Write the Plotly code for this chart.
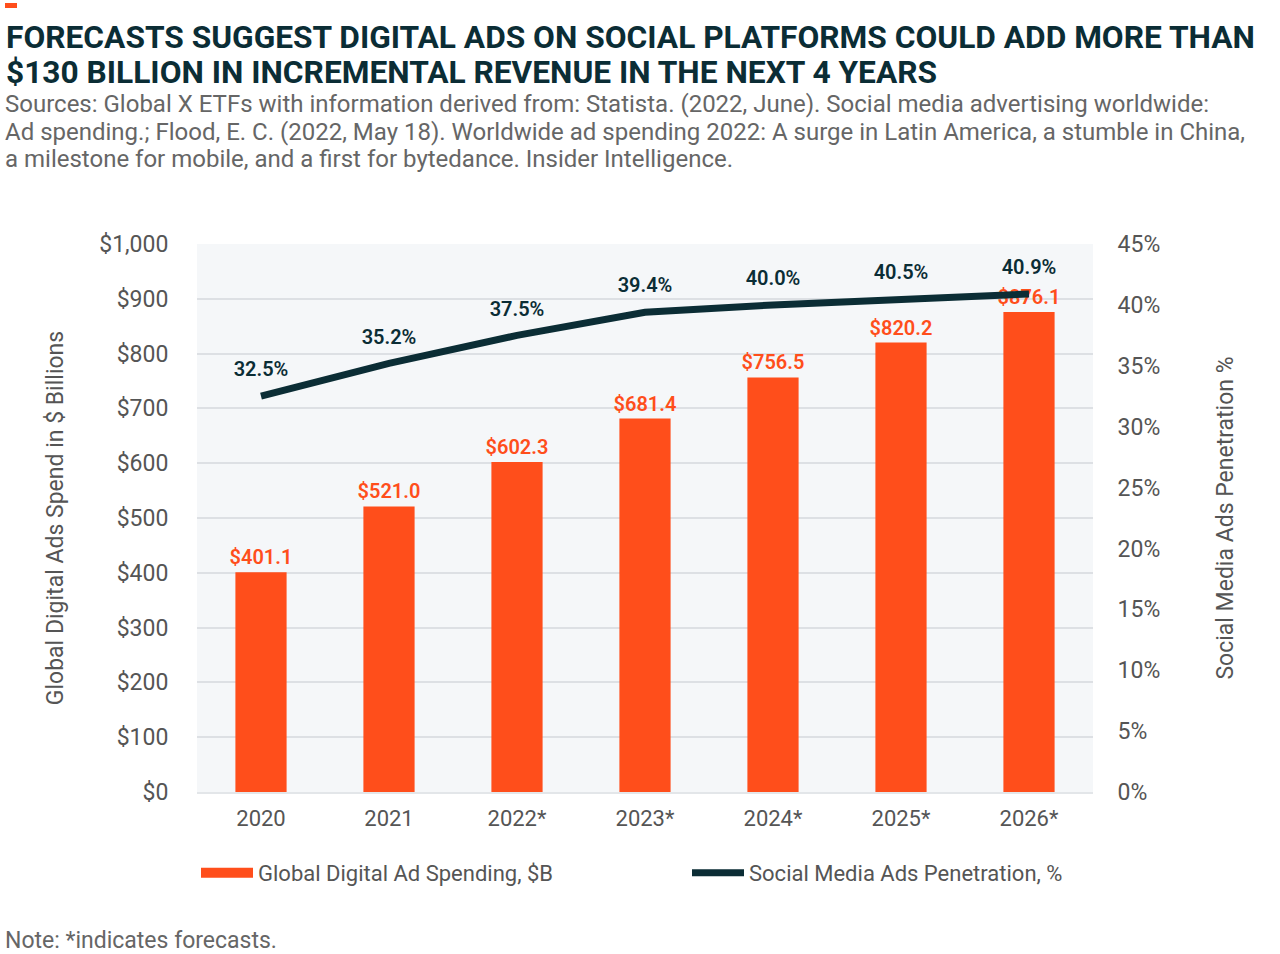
import plotly.graph_objects as go

years = ["2020", "2021", "2022*", "2023*", "2024*", "2025*", "2026*"]
ad_spend = [401.1, 521.0, 602.3, 681.4, 756.5, 820.2, 876.1]
penetration = [32.5, 35.2, 37.5, 39.4, 40.0, 40.5, 40.9]

title_lines = [
    "FORECASTS SUGGEST DIGITAL ADS ON SOCIAL PLATFORMS COULD ADD MORE THAN",
    "$130 BILLION IN INCREMENTAL REVENUE IN THE NEXT 4 YEARS",
]
source_lines = [
    "Sources: Global X ETFs with information derived from: Statista. (2022, June). Social media advertising worldwide:",
    "Ad spending.; Flood, E. C. (2022, May 18). Worldwide ad spending 2022: A surge in Latin America, a stumble in China,",
    "a milestone for mobile, and a first for bytedance. Insider Intelligence.",
]
note_text = "Note: *indicates forecasts."
bar_name = "Global Digital Ad Spending, $B"
line_name = "Social Media Ads Penetration, %"

ORANGE = "#FF4E1B"
DARK = "#0B2D35"
GRAY = "#555555"
FONT = "Roboto"

W, H = 1280, 954
L, R, T, B = 197, 1093, 244, 792


def px(x):
    return (x - L) / (R - L)


def py(y):
    return (B - y) / (B - T)


fig = go.Figure()
fig.add_trace(go.Bar(
    x=years, y=ad_spend, name=bar_name, showlegend=False,
    marker=dict(color=ORANGE, line=dict(width=0)), width=0.4,
    text=[f"${v:,.1f}" for v in ad_spend], textposition="outside", constraintext="none",
    textfont=dict(color=ORANGE, size=20, family=FONT, weight=600), cliponaxis=False,
    yaxis="y",
))
# legend entry for the bars, drawn as a wide swatch like the reference
fig.add_trace(go.Scatter(
    x=[None], y=[None], name=bar_name, mode="lines",
    line=dict(color=ORANGE, width=13), yaxis="y",
))
fig.add_trace(go.Scatter(
    x=years, y=penetration, name=line_name,
    mode="lines+markers+text", line=dict(color=DARK, width=7),
    marker=dict(size=22, color="rgba(0,0,0,0)"),
    text=[f"{v:.1f}%" for v in penetration], textposition="top center",
    textfont=dict(color=DARK, size=20, family=FONT, weight=600), cliponaxis=False,
    yaxis="y2",
))

ann = []
for i, line in enumerate(title_lines):
    ann.append(dict(text=f"<b>{line}</b>", x=px(4), y=py(38 + 35 * i), xref="paper", yref="paper",
                    xanchor="left", yanchor="middle", showarrow=False,
                    font=dict(size=31.7, color=DARK, family=FONT)))
for i, line in enumerate(source_lines):
    ann.append(dict(text=line, x=px(3), y=py(104 + 27.5 * i), xref="paper", yref="paper",
                    xanchor="left", yanchor="middle", showarrow=False,
                    font=dict(size=24, color="#666666", family=FONT)))
ann.append(dict(text=note_text, x=px(3), y=py(940), xref="paper", yref="paper",
                xanchor="left", yanchor="middle", showarrow=False,
                font=dict(size=23, color="#666666", family=FONT)))

fig.update_layout(
    width=W, height=H,
    margin=dict(l=L, r=W - R, t=T, b=H - B, autoexpand=False),
    paper_bgcolor="white", plot_bgcolor="#F5F7F9",
    font=dict(family=FONT, color=GRAY, size=21),
    showlegend=True,
    legend=dict(orientation="h", x=px(196), y=py(873), xref="paper", yref="paper",
                xanchor="left", yanchor="middle", entrywidth=424, entrywidthmode="pixels",
                font=dict(size=22, color=GRAY, family=FONT), itemwidth=52,
                traceorder="normal", bgcolor="rgba(0,0,0,0)"),
    xaxis=dict(showgrid=False, ticks="outside", ticklen=6, tickcolor="rgba(0,0,0,0)",
               tickfont=dict(size=22, color=GRAY), showline=True, linecolor="#E3E6E9", linewidth=2),
    yaxis=dict(range=[0, 1000], dtick=100, tickprefix="$", tickformat=",",
               gridcolor="#DDE0E4", gridwidth=1.5, zeroline=False,
               ticks="outside", ticklen=23, tickcolor="rgba(0,0,0,0)",
               tickfont=dict(size=23, color=GRAY),
               title=dict(text="Global Digital Ads Spend in $ Billions", standoff=29,
                          font=dict(size=23, color=GRAY))),
    yaxis2=dict(range=[0, 45], dtick=5, ticksuffix="%", overlaying="y", side="right",
                showgrid=False, zeroline=False,
                ticks="outside", ticklen=19, tickcolor="rgba(0,0,0,0)",
                tickfont=dict(size=23, color=GRAY),
                title=dict(text="Social Media Ads Penetration %", standoff=57,
                           font=dict(size=23, color=GRAY))),
    annotations=ann,
    shapes=[dict(type="rect", xref="paper", yref="paper", x0=px(5), x1=px(17),
                 y0=py(8), y1=py(3), fillcolor=ORANGE, line=dict(width=0))],
)

fig.write_html("out.html")
